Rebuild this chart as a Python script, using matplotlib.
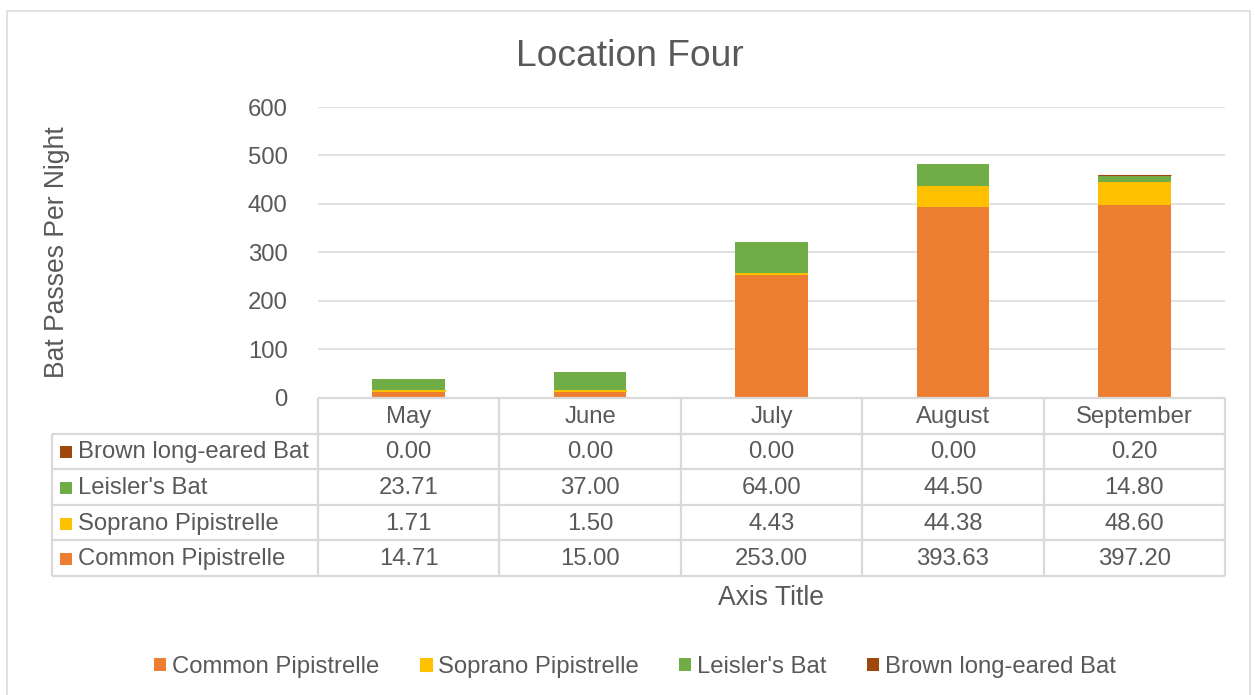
import matplotlib
matplotlib.use('Agg')
import matplotlib.pyplot as plt
import numpy as np
from matplotlib.patches import Rectangle

plt.rcParams['font.family'] = ['Liberation Sans', 'DejaVu Sans']

# data
months = ['May', 'June', 'July', 'August', 'September']
common = [14.71, 15.00, 253.00, 393.63, 397.20]
soprano = [1.71, 1.50, 4.43, 44.38, 48.60]
leisler = [23.71, 37.00, 64.00, 44.50, 14.80]
brown = [0.00, 0.00, 0.00, 0.00, 0.20]
series_names = ['Common Pipistrelle', 'Soprano Pipistrelle', "Leisler's Bat", 'Brown long-eared Bat']
series_vals = [common, soprano, leisler, brown]
colors = ['#ED7D31', '#FFC000', '#70AD47', '#9E480E']
yticks = [0, 100, 200, 300, 400, 500, 600]

W, H = 1255, 695
TXT = '#595959'
GRID = '#d9d9d9'
FS = 17.2


def px(x0, y0, x1, y1):
    # pixel box -> figure fraction rect
    return [x0 / W, 1 - y1 / H, (x1 - x0) / W, (y1 - y0) / H]


fig = plt.figure(figsize=(W / 100, H / 100), dpi=100)

# chart area border
fig.add_artist(Rectangle((7 / W, -0.01), (1250 - 7) / W, (695 - 11) / H + 0.01,
                         transform=fig.transFigure, fill=False, edgecolor=GRID, lw=1.1))

# plot area
ax = fig.add_axes(px(318, 107, 1225, 398))
x = np.arange(len(months))
bottom = np.zeros(len(months))
for name, vals, c in zip(series_names, series_vals, colors):
    # tiny non-zero segments still show as a hairline, like Excel does
    lws = [0.8 if 0 < v < 2 else 0 for v in vals]
    ax.bar(x, vals, 0.4, bottom=bottom, color=c, edgecolor=c, linewidth=lws,
           label=name, zorder=3)
    bottom += np.array(vals)
ax.set_xlim(-0.5, len(months) - 0.5)
ax.set_ylim(0, 600)
ax.set_yticks(yticks)
ax.set_xticks([])
ax.grid(axis='y', color=GRID, lw=1.1, zorder=0)
for s in ax.spines.values():
    s.set_visible(False)
ax.tick_params(axis='y', length=0, pad=22, labelsize=FS, labelcolor=TXT)

# titles
fig.text(630 / W, 1 - 56 / H, 'Location Four', ha='center', va='center', fontsize=26.8, color=TXT)
fig.text(57 / W, 1 - 252 / H, 'Bat Passes Per Night', ha='center', va='center',
         rotation=90, fontsize=19.1, color=TXT)
fig.text(771 / W, 1 - 598 / H, 'Axis Title', ha='center', va='center', fontsize=19.1, color=TXT)

# data table
unit = 907 / len(months)
xmin = -0.5 - 266 / unit
xmax = len(months) - 0.5
tax = fig.add_axes(px(52, 398, 1225, 576))
tax.set_xlim(xmin, xmax)
tax.set_ylim(5, 0)
tax.axis('off')
lk = dict(color=GRID, lw=1.6, clip_on=False, solid_capstyle='butt')
tax.plot([-0.5, xmax], [0, 0], **lk)
for r in range(1, 6):
    tax.plot([xmin, xmax], [r, r], **lk)
for k in range(len(months) + 1):
    tax.plot([k - 0.5, k - 0.5], [0, 5], **lk)
tax.plot([xmin, xmin], [1, 5], **lk)

for i, m in enumerate(months):
    tax.text(i, 0.53, m, ha='center', va='center', fontsize=FS, color=TXT)

rows = list(zip(series_names, series_vals, colors))[::-1]
for r, (name, vals, c) in enumerate(rows, start=1):
    yc = r + 0.53
    tax.plot(xmin + 14 / unit, yc, marker='s', ms=8.6, color=c, mew=0, clip_on=False)
    tax.text(xmin + 26 / unit, yc, name, ha='left', va='center', fontsize=FS, color=TXT)
    for i, v in enumerate(vals):
        tax.text(i, yc, f'{v:.2f}', ha='center', va='center', fontsize=FS, color=TXT)

# legend
handles, labels = ax.get_legend_handles_labels()
fig.legend(handles, labels, loc='center', bbox_to_anchor=(635 / W, 1 - 667 / H), ncol=4,
           frameon=False, fontsize=FS, labelcolor=TXT, handlelength=0.5, handleheight=0.5,
           handletextpad=0.25, columnspacing=1.7, borderaxespad=0)

fig.savefig('out.png', dpi=100)
